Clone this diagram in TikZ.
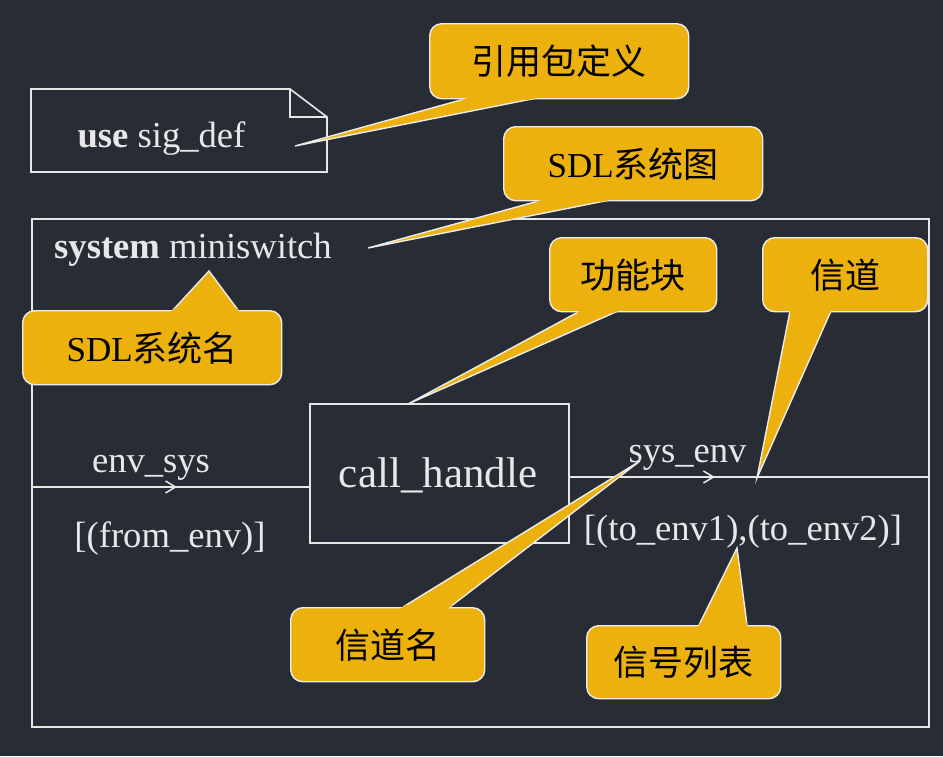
\documentclass[tikz,border=0pt]{standalone}
\usepackage{fontspec}
\setmainfont{Liberation Serif}
\newfontfamily\cjk{Noto Sans CJK SC}
\usetikzlibrary{arrows.meta,decorations.markings,calc}
\definecolor{bg}{RGB}{40,44,53}
\definecolor{ln}{RGB}{232,232,232}
\definecolor{cf}{RGB}{237,177,13}
\definecolor{cb}{RGB}{236,236,236}
\newcommand\pointer[3]{\filldraw[ptr] (#1) -- (#2) -- (#3);}
\newcommand\cover[4]{\begin{scope}\clip (0,#4-1.6) rectangle (943,#4+1.6);
  \fill[cf] (#2) -- ($(#2)!1.3!(#1)$) -- ($(#2)!1.3!(#3)$) -- cycle;\end{scope}}
\begin{document}
\begin{tikzpicture}[x=1pt,y=-1pt,
  frame/.style={draw=ln, line width=1.6pt, inner sep=0pt, anchor=north west},
  txt/.style={text=ln, font=\fontsize{36.6}{40}\selectfont, inner sep=0pt, anchor=base},
  callbox/.style={draw=cb, fill=cf, line width=1.4pt, rounded corners=12pt, anchor=north west,
     inner sep=0pt, font=\fontsize{35}{40}\selectfont, text=black},
  ptr/.style={draw=cb, fill=cf, line width=1.4pt, line join=miter},
  chan/.style={draw=ln, line width=1.6pt, postaction={decorate},
     decoration={markings, mark=at position #1 with {\arrow{Straight Barb[length=10pt,width=12pt,line width=1.5pt]}}}}
]
\fill[bg] (0,0) rectangle (943,756);
\useasboundingbox (0,0) rectangle (943,756);

% use sig_def note
\draw[draw=ln, line width=1.6pt, line join=miter] (31,89) -- (290,89) -- (327,117) -- (327,172) -- (31,172) -- cycle;
\draw[draw=ln, line width=1.6pt] (290,89) -- (290,117) -- (327,117);
\node[txt] (use) at (161.5,147) {\textbf{use} sig\_def};

% system frame
\node[frame, minimum width=897pt, minimum height=508pt] (sys) at (31,218) {};
\node[txt] (sysname) at (193,258) {\textbf{system} miniswitch};

% block
\node[frame, minimum width=259pt, minimum height=139pt] (ch) at (309,403) {};
\node[txt, font=\fontsize{43}{46}\selectfont] (chtext) at (438,487) {call\_handle};

% channels
\coordinate (e1) at (31,487);
\coordinate (e2) at (309,487);
\draw[chan=0.525] (e1) -- (e2);
\coordinate (s1) at (568,477);
\coordinate (s2) at (928,477);
\draw[chan=0.408] (s1) -- (s2);
\node[txt] (envsys) at (151,472) {env\_sys};
\node[txt] (fromenv) at (170,547) {[(from\_env)]};
\node[txt] (sysenv) at (687.5,462) {sys\_env};
\node[txt] (toenv) at (743,540) {[(to\_env1),(to\_env2)]};

% callout 1
\coordinate (a1) at (468,98); \coordinate (t1) at (295,146); \coordinate (b1) at (537,98);
\pointer{a1}{t1}{b1}
\node[callbox, minimum width=259pt, minimum height=75pt] (c1) at (429,23) {\cjk 引用包定义};
\cover{a1}{t1}{b1}{98}

% callout 2
\coordinate (a2) at (542,200); \coordinate (t2) at (368,248); \coordinate (b2) at (610,200);
\pointer{a2}{t2}{b2}
\node[callbox, minimum width=259pt, minimum height=74pt] (c2) at (503,126) {SDL{\cjk 系统图}};
\cover{a2}{t2}{b2}{200}

% callout 3
\coordinate (a3) at (173,310); \coordinate (t3) at (209,271); \coordinate (b3) at (238,310);
\pointer{a3}{t3}{b3}
\node[callbox, minimum width=259pt, minimum height=74pt] (c3) at (22,310) {SDL{\cjk 系统名}};
\cover{a3}{t3}{b3}{310}

% callout 4
\coordinate (a4) at (580,311); \coordinate (t4) at (408,404); \coordinate (b4) at (618,311);
\pointer{a4}{t4}{b4}
\node[callbox, minimum width=167pt, minimum height=74pt] (c4) at (549,237) {\cjk 功能块};
\cover{a4}{t4}{b4}{311}

% callout 5
\coordinate (a5) at (790,311); \coordinate (t5) at (757,478); \coordinate (b5) at (831,311);
\pointer{a5}{t5}{b5}
\node[callbox, minimum width=165pt, minimum height=74pt] (c5) at (762,237) {\cjk 信道};
\cover{a5}{t5}{b5}{311}

% callout 6
\coordinate (a6) at (403,607); \coordinate (t6) at (640,461); \coordinate (b6) at (450,607);
\pointer{a6}{t6}{b6}
\node[callbox, minimum width=194pt, minimum height=74pt] (c6) at (290,607) {\cjk 信道名};
\cover{a6}{t6}{b6}{607}

% callout 7
\coordinate (a7) at (699,625); \coordinate (t7) at (737,548); \coordinate (b7) at (747,625);
\pointer{a7}{t7}{b7}
\node[callbox, minimum width=194pt, minimum height=73pt] (c7) at (586,625) {\cjk 信号列表};
\cover{a7}{t7}{b7}{625}
\end{tikzpicture}
\end{document}
